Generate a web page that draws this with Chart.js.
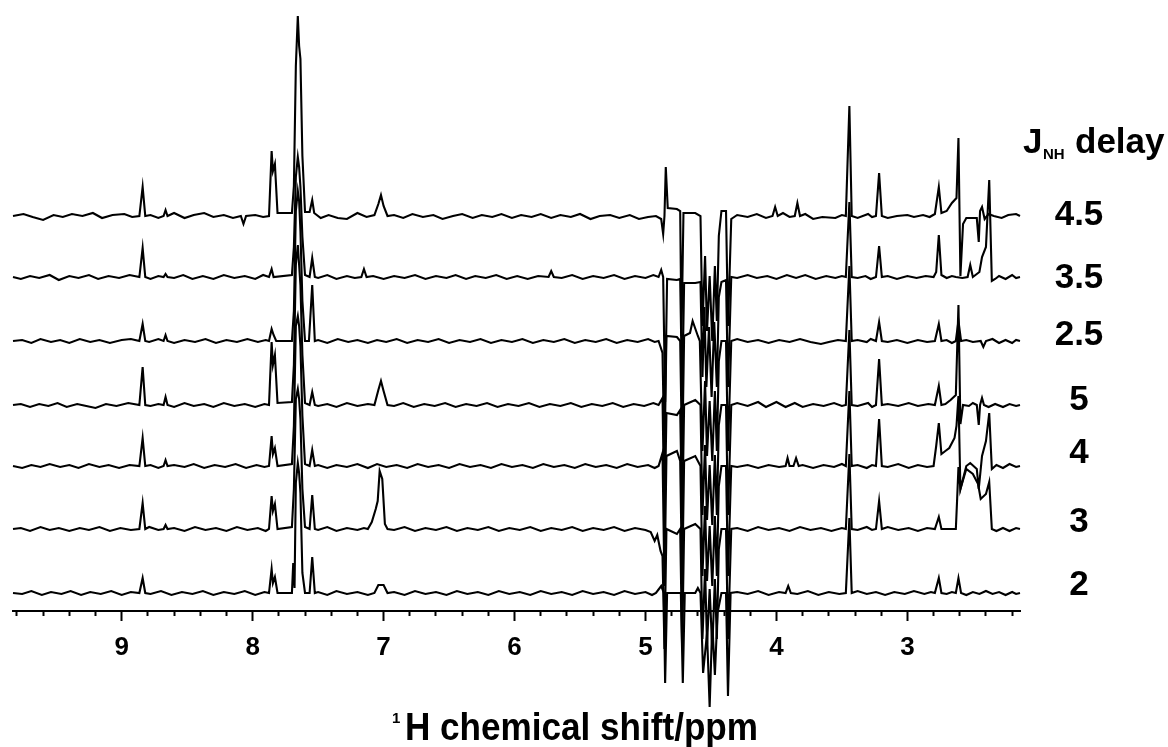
<!DOCTYPE html>
<html>
<head>
<meta charset="utf-8">
<script src="https://cdn.jsdelivr.net/npm/chart.js@4.4.1/dist/chart.umd.min.js"></script>
<style>
html,body{margin:0;padding:0;background:#fff;}
canvas{display:block;}
</style>
</head>
<body>
<canvas id="c" width="1168" height="747"></canvas>
<script>
// ---- data (ppm, intensity) ----
const delays = ['4.5', '3.5', '2.5', '5', '4', '3', '2'];
const offsets = [395, 334, 270, 206, 145, 82, 18];
const majorTicks = [3, 4, 5, 6, 7, 8, 9];
const minorTicks = [2.2,2.4,2.6,2.8,3.2,3.4,3.6,3.8,4.2,4.4,4.6,4.8,5.2,5.4,5.6,5.8,6.2,6.4,6.6,6.8,7.2,7.4,7.6,7.8,8.2,8.4,8.6,8.8,9.2,9.4,9.6,9.8];
const xMin = 2.14, xMax = 9.83;

// peaks
const peaks45 = [[9.83,0],[8.865,0],[8.84,29],[8.82,0],[8.68,0],[8.665,6],[8.65,0],
 [8.09,0],[8.07,-8],[8.05,0],[7.875,0],[7.855,65],[7.845,45],[7.83,52],[7.81,3],
 [7.70,3],[7.685,30],[7.67,150],[7.655,200],[7.645,170],[7.635,157],[7.62,60],[7.60,4],
 [7.565,4],[7.545,16],[7.53,3],[7.07,1],[7.04,12],[7.02,21],[7.00,10],[6.97,0],
 [4.92,0],[4.88,-3],[4.865,-18],[4.855,0],[4.845,49],[4.83,8],[4.76,7],[4.735,5],
 [4.725,-120],[4.71,3],[4.62,3],[4.58,0],[4.565,-110],[4.545,-40],[4.53,-115],[4.51,-60],[4.49,-125],[4.47,-50],[4.455,-105],[4.44,-20],[4.42,5],[4.385,5],[4.37,-110],[4.345,-3],
 [4.03,0],[4.01,9],[3.99,0],[3.86,0],[3.84,13],[3.82,0],[3.47,0],[3.443,110],[3.425,0],
 [3.24,0],[3.216,43],[3.195,0],[2.79,2],[2.76,29],[2.74,3],[2.70,5],[2.66,13],[2.625,18],[2.61,78],[2.595,-60],[2.575,-8],[2.55,-2],
 [2.47,-2],[2.455,-26],[2.445,5],[2.43,9],[2.41,-3],[2.38,2],[2.34,0],[2.14,0]];
const noise45 = [[9.75,2],[9.68,-1],[9.6,-4],[9.52,1],[9.45,-1],[9.38,2],[9.3,0],[9.22,3],[9.15,-2],[9.07,1],[8.98,2],[8.92,-1],
 [8.78,1],[8.72,-2],[8.6,3],[8.52,-2],[8.45,1],[8.37,3],[8.3,-1],[8.22,1],[8.15,-2],[7.98,1],[7.92,-1],
 [7.48,-2],[7.42,1],[7.35,-2],[7.28,-3],[7.2,3],[7.13,-1],
 [6.92,1],[6.85,-2],[6.78,2],[6.7,-1],[6.62,1],[6.55,-3],[6.47,0],[6.4,2],[6.32,-2],[6.25,1],[6.17,-1],[6.1,2],[6.02,-2],[5.95,1],[5.87,-1],[5.8,2],[5.72,-2],[5.65,1],[5.57,-1],[5.5,2],[5.42,-3],[5.35,0],[5.27,1],[5.2,-2],[5.12,1],[5.05,-3],[4.98,-1],
 [4.3,1],[4.22,-1],[4.15,2],[4.08,-2],[3.95,3],[3.9,-1],[3.78,2],[3.72,-3],[3.65,-1],[3.55,-2],[3.5,1],
 [3.38,-2],[3.3,2],[3.27,-1],[3.15,-2],[3.08,0],[3.0,1],[2.95,-1],[2.88,1],[2.83,-1],[2.28,-2],[2.23,1],[2.17,2]];

const peaks35 = [[9.83,0],[8.865,0],[8.84,29],[8.82,0],[8.68,0],[8.665,3],[8.65,0],
 [7.875,0],[7.855,8],[7.84,0],[7.70,2],[7.685,30],[7.67,100],[7.655,120],[7.645,110],[7.635,90],[7.62,40],[7.60,2],
 [7.565,0],[7.545,19],[7.525,0],[7.17,0],[7.15,8],[7.13,0],[5.74,0],[5.72,6],[5.70,0],
 [4.90,0],[4.88,7],[4.865,0],[4.85,-125],[4.835,-2],[4.76,-3],[4.735,-2],[4.72,-120],[4.705,-6],[4.62,-6],[4.58,-5],
 [4.565,-100],[4.55,-30],[4.535,-110],[4.515,-50],[4.495,-120],[4.475,-45],[4.455,-110],[4.44,-20],[4.42,-5],[4.385,-3],[4.37,-110],[4.345,0],
 [3.47,0],[3.443,75],[3.425,0],[3.24,0],[3.216,31],[3.195,0],
 [2.80,0],[2.78,5],[2.76,42],[2.74,2],[2.63,0],[2.54,0],[2.52,12],[2.50,0],[2.45,5],[2.43,20],[2.40,30],[2.375,97],[2.355,-4],[2.33,-2],[2.14,0]];
const noise35 = [[9.77,-2],[9.7,1],[9.63,-1],[9.55,2],[9.48,-3],[9.4,1],[9.33,-1],[9.25,2],[9.18,-2],[9.1,1],[9.02,-1],[8.94,2],
 [8.78,-2],[8.72,1],[8.6,-1],[8.53,2],[8.46,-2],[8.38,1],[8.3,-2],[8.22,2],[8.14,-1],[8.06,1],[7.98,-2],[7.92,2],
 [7.5,-1],[7.43,2],[7.36,-2],[7.28,1],[7.22,-1],
 [7.08,1],[7.0,-2],[6.92,1],[6.84,-1],[6.76,2],[6.68,-2],[6.6,1],[6.52,-1],[6.45,2],[6.37,-2],[6.3,1],[6.22,-1],[6.14,2],[6.06,-2],[5.98,1],[5.9,-2],[5.82,1],[5.64,-1],[5.56,2],[5.48,-2],[5.4,1],[5.32,-1],[5.24,2],[5.16,-2],[5.08,1],[5.0,-1],[4.94,2],
 [4.3,-1],[4.22,2],[4.15,-1],[4.07,1],[4.0,-2],[3.92,2],[3.85,-1],[3.78,2],[3.7,-2],[3.62,1],[3.55,-1],[3.5,1],
 [3.38,-1],[3.32,1],[3.28,-2],[3.15,1],[3.08,-2],[3.0,1],[2.93,-1],[2.86,1],
 [2.7,-1],[2.66,1],[2.58,-1],[2.3,1],[2.25,-2],[2.2,2],[2.17,-1]];

const peaks25 = [[9.83,0],[8.865,0],[8.84,17],[8.82,0],[8.68,0],[8.665,6],[8.65,0],
 [7.875,0],[7.855,12],[7.84,6],[7.82,0],[7.70,0],[7.685,30],[7.67,130],[7.655,150],[7.645,140],[7.635,110],[7.62,40],[7.60,0],
 [7.57,0],[7.545,56],[7.525,0],
 [4.90,0],[4.87,-12],[4.855,-120],[4.84,5],[4.76,4],[4.735,0],[4.72,-120],[4.705,5],[4.66,8],[4.64,20],[4.60,5],[4.585,0],
 [4.565,-110],[4.545,-40],[4.53,-115],[4.51,-60],[4.49,-120],[4.47,-50],[4.455,-110],[4.44,-20],[4.42,0],[4.385,0],[4.37,-110],[4.345,0],
 [3.47,0],[3.443,75],[3.425,0],[3.24,0],[3.216,19],[3.195,0],[2.79,0],[2.76,17],[2.74,0],[2.63,0],[2.61,20],[2.59,0],
 [2.44,0],[2.42,-6],[2.40,0],[2.14,0]];
const noise25 = [[9.76,1],[9.69,-2],[9.62,2],[9.54,-1],[9.47,1],[9.4,-2],[9.32,2],[9.24,-1],[9.17,1],[9.09,-2],[9.0,1],[8.93,2],
 [8.79,-1],[8.72,2],[8.6,-2],[8.52,1],[8.44,-1],[8.36,2],[8.28,-2],[8.2,1],[8.12,-1],[8.04,2],[7.96,-1],[7.9,1],
 [7.5,1],[7.43,-2],[7.35,2],[7.27,-1],[7.2,1],[7.12,-2],[7.05,1],[6.98,-1],[6.9,2],[6.82,-2],[6.74,1],[6.66,-1],[6.58,2],[6.5,-2],[6.42,1],[6.34,-1],[6.26,2],[6.18,-2],[6.1,1],[6.02,-1],[5.94,2],[5.86,-2],[5.78,1],[5.7,-1],[5.62,2],[5.54,-2],[5.46,1],[5.38,-1],[5.3,2],[5.22,-2],[5.14,1],[5.06,-1],[4.98,2],[4.93,-1],
 [4.3,2],[4.22,-1],[4.14,1],[4.06,-2],[3.98,1],[3.9,-1],[3.82,2],[3.74,-1],[3.66,-3],[3.6,-1],[3.53,1],
 [3.38,1],[3.31,-1],[3.28,2],[3.15,-1],[3.08,1],[3.0,-2],[2.92,1],[2.85,-1],
 [2.7,1],[2.66,-2],[2.55,1],[2.5,-1],[2.35,2],[2.3,-2],[2.25,1],[2.2,-2],[2.17,1]];

const peaks5 = [[9.83,0],[8.865,0],[8.84,38],[8.82,0],[8.68,0],[8.665,8],[8.65,0],
 [7.875,0],[7.855,63],[7.845,40],[7.83,50],[7.81,2],[7.70,3],[7.685,40],[7.67,140],[7.655,160],[7.645,140],[7.635,120],[7.62,50],[7.60,2],
 [7.565,0],[7.545,13],[7.525,0],[7.07,0],[7.04,15],[7.02,24],[7.00,14],[6.97,0],
 [4.90,0],[4.87,7],[4.855,-120],[4.84,-8],[4.76,-10],[4.735,-5],[4.72,-120],[4.705,0],[4.62,5],[4.58,0],
 [4.565,-110],[4.545,-40],[4.53,-115],[4.51,-60],[4.49,-120],[4.47,-50],[4.455,-110],[4.44,-20],[4.42,0],[4.385,0],[4.37,-110],[4.345,0],
 [3.47,0],[3.443,75],[3.425,0],[3.24,0],[3.216,46],[3.195,0],[2.79,0],[2.76,19],[2.74,0],
 [2.67,5],[2.63,10],[2.61,100],[2.595,-19],[2.575,0],[2.47,0],[2.455,-20],[2.445,0],[2.43,7],[2.415,0],[2.14,0]];
const noise5 = [[9.77,1],[9.7,-2],[9.63,1],[9.56,-1],[9.49,2],[9.42,-2],[9.34,1],[9.27,-1],[9.2,-3],[9.12,1],[9.04,-1],[8.95,2],
 [8.78,-1],[8.72,1],[8.6,-2],[8.52,2],[8.45,-1],[8.37,1],[8.3,-2],[8.22,2],[8.14,-1],[8.06,1],[7.98,-2],[7.91,1],
 [7.5,-1],[7.43,1],[7.36,-2],[7.28,2],[7.2,-1],[7.12,1],
 [6.92,-1],[6.85,2],[6.77,-2],[6.69,1],[6.61,-1],[6.53,2],[6.45,-2],[6.37,1],[6.29,-1],[6.21,2],[6.13,-2],[6.05,1],[5.97,-1],[5.89,2],[5.81,-2],[5.73,1],[5.65,-1],[5.57,2],[5.49,-2],[5.41,1],[5.33,-1],[5.25,2],[5.17,-2],[5.09,1],[5.01,-1],[4.94,2],
 [4.3,2],[4.22,-1],[4.14,3],[4.08,-2],[4.0,3],[3.93,-2],[3.86,2],[3.8,-2],[3.72,1],[3.64,-1],[3.56,2],[3.5,-1],
 [3.38,-1],[3.3,2],[3.27,-2],[3.15,1],[3.07,-1],[2.99,2],[2.92,-1],[2.84,1],
 [2.71,1],[2.53,-1],[2.5,2],[2.38,-2],[2.33,1],[2.27,-2],[2.22,1],[2.17,-1]];

const peaks4 = [[9.83,0],[8.865,0],[8.84,28],[8.82,0],[8.68,0],[8.665,6],[8.65,0],
 [7.875,0],[7.855,30],[7.845,12],[7.83,18],[7.81,0],[7.70,2],[7.685,40],[7.67,140],[7.655,150],[7.645,140],[7.635,120],[7.62,50],[7.60,2],
 [7.565,0],[7.545,16],[7.525,0],
 [4.90,0],[4.87,13],[4.855,-120],[4.84,10],[4.76,15],[4.735,5],[4.72,-120],[4.705,5],[4.62,10],[4.58,0],
 [4.565,-110],[4.545,-40],[4.53,-115],[4.51,-60],[4.49,-120],[4.47,-50],[4.455,-110],[4.44,-20],[4.42,0],[4.385,0],[4.37,-110],[4.345,0],
 [3.93,0],[3.915,8],[3.90,0],[3.87,0],[3.85,8],[3.83,0],[3.47,0],[3.443,75],[3.425,0],[3.24,0],[3.216,47],[3.195,0],
 [2.80,0],[2.78,20],[2.76,43],[2.74,12],[2.71,15],[2.68,18],[2.64,28],[2.625,40],[2.61,70],[2.595,-23],[2.55,0],[2.52,3],
 [2.47,-3],[2.455,-23],[2.43,10],[2.40,25],[2.375,53],[2.355,-3],[2.14,0]];
const noise4 = [[9.76,-2],[9.69,1],[9.62,-1],[9.55,2],[9.47,-1],[9.4,1],[9.33,-2],[9.25,2],[9.17,-1],[9.1,1],[9.02,-2],[8.94,1],
 [8.78,1],[8.72,-2],[8.6,1],[8.52,-1],[8.45,2],[8.37,-2],[8.29,1],[8.21,-1],[8.13,2],[8.05,-2],[7.97,1],[7.91,-1],
 [7.5,1],[7.43,-2],[7.36,1],[7.28,-1],[7.2,2],[7.12,-2],[7.05,2],[6.98,-1],[6.9,1],[6.82,-2],[6.74,2],[6.66,-1],[6.58,1],[6.5,-2],[6.42,2],[6.34,-1],[6.26,1],[6.18,-2],[6.1,2],[6.02,-1],[5.94,1],[5.86,-2],[5.78,2],[5.7,-1],[5.62,1],[5.54,-2],[5.46,2],[5.38,-1],[5.3,1],[5.22,-2],[5.14,2],[5.06,-1],[4.98,1],[4.93,-2],
 [4.3,-1],[4.22,1],[4.14,-2],[4.06,1],[3.98,-1],[3.8,1],[3.72,-2],[3.64,1],[3.56,-1],[3.5,2],
 [3.38,1],[3.31,-2],[3.27,1],[3.15,-1],[3.07,2],[2.99,-2],[2.92,1],[2.85,-1],
 [2.32,1],[2.27,-2],[2.22,2],[2.17,-1]];

const peaks3 = [[9.83,0],[8.865,0],[8.84,26],[8.82,0],[8.68,0],[8.665,4],[8.65,0],
 [7.875,0],[7.855,33],[7.845,18],[7.83,25],[7.81,0],[7.70,2],[7.685,40],[7.67,130],[7.655,140],[7.645,130],[7.635,110],[7.62,40],[7.60,2],
 [7.565,0],[7.545,34],[7.525,0],[7.12,0],[7.09,7],[7.06,20],[7.045,28],[7.03,58],[7.01,50],[6.99,5],[6.97,0],
 [5.0,-1],[4.96,-3],[4.93,-12],[4.91,-6],[4.885,-22],[4.87,-27],[4.855,-120],[4.84,0],[4.76,-5],[4.735,0],[4.72,-120],[4.705,0],[4.62,5],[4.58,0],
 [4.565,-110],[4.545,-40],[4.53,-115],[4.51,-60],[4.49,-120],[4.47,-50],[4.455,-110],[4.44,-20],[4.42,0],[4.385,0],[4.37,-110],[4.345,0],
 [3.47,0],[3.443,75],[3.425,0],[3.24,0],[3.216,28],[3.195,0],[2.79,0],[2.76,12],[2.74,0],
 [2.63,0],[2.62,30],[2.61,62],[2.595,40],[2.55,60],[2.50,55],[2.46,45],[2.44,30],[2.40,35],[2.375,47],[2.355,0],[2.14,0]];
const noise3 = [[9.77,1],[9.7,-2],[9.62,2],[9.55,-1],[9.48,1],[9.4,-2],[9.32,1],[9.25,-1],[9.17,2],[9.09,-2],[9.01,1],[8.93,-1],
 [8.79,2],[8.72,-1],[8.6,1],[8.52,-2],[8.44,2],[8.36,-1],[8.28,1],[8.2,-2],[8.12,2],[8.04,-1],[7.96,1],[7.9,-2],
 [7.5,-1],[7.43,2],[7.36,-2],[7.28,1],[7.2,-1],[7.15,1],
 [6.92,-1],[6.84,2],[6.76,-2],[6.68,1],[6.6,-1],[6.52,2],[6.44,-2],[6.36,1],[6.28,-1],[6.2,2],[6.12,-2],[6.04,1],[5.96,-1],[5.88,2],[5.8,-2],[5.72,1],[5.64,-1],[5.56,2],[5.48,-2],[5.4,1],[5.32,-1],[5.24,2],[5.16,-2],[5.08,1],
 [4.3,1],[4.22,-2],[4.14,2],[4.06,-1],[3.98,1],[3.9,-2],[3.82,2],[3.74,-1],[3.66,1],[3.58,-2],[3.5,1],
 [3.38,-1],[3.31,2],[3.27,-1],[3.15,2],[3.07,-1],[2.99,1],[2.92,-2],[2.85,1],
 [2.32,-2],[2.27,1],[2.22,-2],[2.17,1]];

const peaks2 = [[9.83,0],[8.865,0],[8.84,15],[8.82,0],
 [7.875,0],[7.855,24],[7.845,10],[7.83,16],[7.81,0],[7.70,0],[7.69,30],[7.68,5],[7.67,110],[7.655,130],[7.645,120],[7.635,100],[7.62,20],[7.60,0],
 [7.565,0],[7.545,36],[7.525,0],[7.07,0],[7.04,8],[7.00,8],[6.97,0],
 [4.92,0],[4.88,7],[4.86,0],[4.85,-90],[4.835,0],[4.73,0],[4.715,-90],[4.70,0],[4.62,0],[4.60,5],[4.58,0],
 [4.56,-80],[4.53,-40],[4.51,-114],[4.49,-30],[4.47,-82],[4.45,-20],[4.42,0],[4.385,0],[4.37,-103],[4.35,0],
 [3.93,0],[3.91,7],[3.89,0],[3.47,0],[3.443,75],[3.425,0],[2.79,0],[2.76,15],[2.74,0],[2.63,0],[2.61,15],[2.59,0],[2.14,0]];
const noise2 = [[9.76,-1],[9.69,2],[9.61,-2],[9.54,1],[9.46,-1],[9.39,2],[9.31,-2],[9.24,1],[9.16,-1],[9.08,2],[9.0,-2],[8.93,1],
 [8.78,-1],[8.7,2],[8.62,-2],[8.54,1],[8.46,-1],[8.38,2],[8.3,-2],[8.22,1],[8.14,-1],[8.06,2],[7.98,-2],[7.91,1],
 [7.5,1],[7.43,-2],[7.36,2],[7.28,-1],[7.2,1],[7.12,-2],
 [6.92,1],[6.84,-2],[6.76,2],[6.68,-1],[6.6,1],[6.52,-2],[6.44,2],[6.36,-1],[6.28,1],[6.2,-2],[6.12,2],[6.04,-1],[5.96,1],[5.88,-2],[5.8,2],[5.72,-1],[5.64,1],[5.56,-2],[5.48,2],[5.4,-1],[5.32,1],[5.24,-2],[5.16,2],[5.08,-1],[5.0,1],[4.95,-2],
 [4.3,1],[4.22,-1],[4.14,2],[4.06,-2],[3.98,1],[3.84,-1],[3.76,2],[3.68,-2],[3.6,1],[3.52,-1],
 [3.38,2],[3.31,-1],[3.24,1],[3.17,-2],[3.1,1],[3.02,-1],[2.95,2],[2.87,-1],[2.82,1],
 [2.7,-1],[2.66,1],[2.55,-2],[2.5,1],[2.45,-1],[2.4,2],[2.35,-1],[2.3,1],[2.25,-2],[2.2,1],[2.17,-1]];

const peakSets = [peaks45, peaks35, peaks25, peaks5, peaks4, peaks3, peaks2];
const noiseSets = [noise45, noise35, noise25, noise5, noise4, noise3, noise2];

// ---- chart ----
const FONT = '"Liberation Sans", Arial, Helvetica, sans-serif';

const datasets = peakSets.map((p, i) => {
  const pts = p.concat(noiseSets[i]).sort((a, b) => b[0] - a[0]);
  return {
    label: delays[i],
    data: pts.map(q => ({x: q[0], y: q[1] + offsets[i]})),
    borderColor: '#000',
    borderWidth: 2.1,
    pointRadius: 0,
    tension: 0,
    fill: false,
    clip: false
  };
});

const labelPlugin = {
  id: 'labels',
  afterDraw(chart) {
    const ctx = chart.ctx;
    ctx.save();
    ctx.fillStyle = '#000';
    ctx.textBaseline = 'alphabetic';
    ctx.textAlign = 'left';
    ctx.font = 'bold 35px ' + FONT;
    ctx.fillText('J', 1023, 153);
    ctx.font = 'bold 15px ' + FONT;
    ctx.fillText('NH', 1043, 159);
    ctx.font = 'bold 35px ' + FONT;
    ctx.fillText('delay', 1075, 153);
    const ys = [225, 288, 345, 410, 463, 532, 595];
    ctx.textAlign = 'center';
    delays.forEach((d, i) => ctx.fillText(d, 1079, ys[i]));
    ctx.textAlign = 'left';
    ctx.font = 'bold 15px ' + FONT;
    ctx.fillText('1', 392, 723);
    ctx.translate(405, 740);
    ctx.scale(0.9, 1);
    ctx.font = 'bold 39px ' + FONT;
    ctx.fillText('H chemical shift/ppm', 0, 0);
    ctx.restore();
  }
};

new Chart(document.getElementById('c'), {
  type: 'line',
  data: {datasets},
  options: {
    responsive: false,
    animation: false,
    layout: {padding: {left: 13, right: 148, top: 11, bottom: 0}},
    plugins: {legend: {display: false}, tooltip: {enabled: false}},
    scales: {
      x: {
        type: 'linear', reverse: true, min: xMin, max: xMax, position: 'bottom',
        afterBuildTicks: s => { s.ticks = majorTicks.map(v => ({value: v})); },
        afterFit: s => { s.height = 136; },
        grid: {drawOnChartArea: false, drawTicks: true, tickLength: 10, tickWidth: 2, tickColor: '#000'},
        border: {display: true, color: '#000', width: 2},
        ticks: {color: '#000', font: {family: FONT, size: 26, weight: 'bold'}, padding: 11, maxRotation: 0, autoSkip: false}
      },
      x2: {
        type: 'linear', reverse: true, min: xMin, max: xMax, position: {y: 0},
        afterBuildTicks: s => { s.ticks = minorTicks.map(v => ({value: v})); },
        grid: {drawOnChartArea: false, drawTicks: true, tickLength: 5, tickWidth: 2, tickColor: '#000'},
        border: {display: false},
        ticks: {display: false}
      },
      y: {min: 0, max: 600, display: false}
    }
  },
  plugins: [labelPlugin]
});
</script>
</body>
</html>
